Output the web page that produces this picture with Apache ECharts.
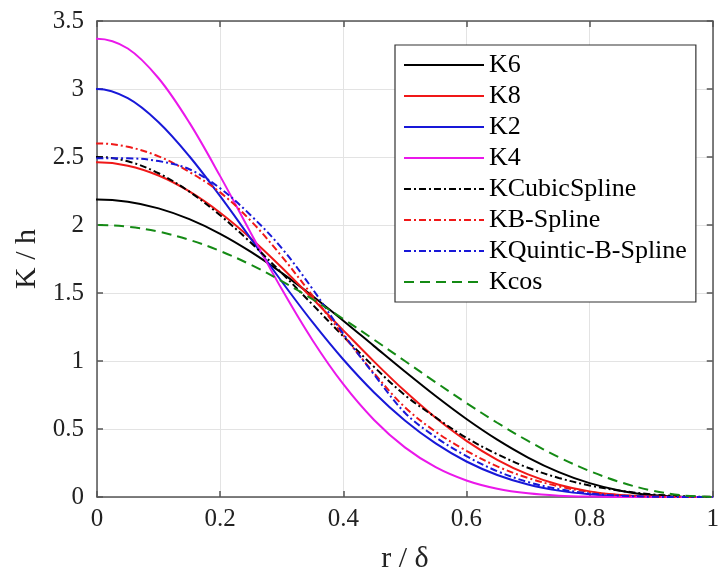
<!DOCTYPE html>
<html><head><meta charset="utf-8">
<script src="https://cdn.jsdelivr.net/npm/echarts@6/dist/echarts.min.js"></script>
<style>html,body{margin:0;padding:0;background:#fff}#c{width:722px;height:579px}</style>
</head><body><div id="c"></div>
<script>
// r / delta sample positions (kernels are symmetric, so the first sample mirrors r = 0.05)
const rValues = [-0.05,0,0.05,0.10,0.15,0.20,0.25,0.30,0.35,0.40,0.45,0.50,0.55,0.60,0.65,0.70,0.75,0.80,0.85,0.90,0.95,1.00];
const seriesNames = ['K6','K8','K2','K4','KCubicSpline','KB-Spline','KQuintic-B-Spline','Kcos'];
const K6 = [2.171,2.1875,2.171,2.1225,2.0431,1.9354,1.8024,1.6484,1.4781,1.2965,1.1095,0.9229,0.7423,0.5734,0.4213,0.2902,0.1832,0.1021,0.0467,0.0150,0.0020,0];
const K8 = [2.4364,2.4609,2.4364,2.3639,2.2468,2.0902,1.9010,1.6876,1.4591,1.2252,0.9954,0.7786,0.5825,0.4129,0.2737,0.1665,0.0902,0.0413,0.0146,0.0032,0.0002,0];
const K2 = [2.9322,3.0,2.9322,2.7556,2.5056,2.2118,1.8984,1.5847,1.2853,1.0109,0.7687,0.5625,0.3937,0.2611,0.1621,0.0923,0.0469,0.0202,0.0067,0.0014,0.0001,0];
const K4 = [3.2976,3.37,3.2976,3.0790,2.7526,2.3593,1.9397,1.5287,1.1529,0.8293,0.5664,0.3647,0.2194,0.1217,0.0610,0.0269,0.0099,0.0029,0.0006,0.0001,0,0];
const KCubicSpline = [2.4686,2.5,2.4686,2.3805,2.2451,2.0715,1.8692,1.6472,1.4149,1.1816,0.9566,0.7491,0.585,0.435,0.315,0.215,0.14,0.085,0.046,0.02,0.006,0.001];
const KBSpline = [2.575,2.60,2.575,2.505,2.39,2.24,2.03,1.77,1.48,1.19,0.91,0.66,0.48,0.34,0.225,0.14,0.078,0.037,0.013,0.003,0,0];
const KQuinticBSpline = [2.49,2.49,2.49,2.47,2.41,2.27,2.07,1.83,1.53,1.20,0.90,0.62,0.44,0.30,0.19,0.11,0.058,0.026,0.010,0.002,0,0];
const Kcos = [1.9877,2,1.9877,1.9511,1.8910,1.8090,1.7071,1.5878,1.4540,1.3090,1.1564,1.0,0.8436,0.6910,0.5460,0.4122,0.2929,0.1910,0.1090,0.0489,0.0123,0];
const xTickLabels = ['0','0.2','0.4','0.6','0.8','1'];
const yTickLabels = ['0','0.5','1','1.5','2','2.5','3','3.5'];

const FONT = "'Liberation Serif','Times New Roman',serif";
const seriesData = [K6,K8,K2,K4,KCubicSpline,KBSpline,KQuinticBSpline,Kcos];
const styles = [
  {color:'#000000', type:'solid'},
  {color:'#f01818', type:'solid'},
  {color:'#1818d8', type:'solid'},
  {color:'#ea18ea', type:'solid'},
  {color:'#000000', type:[7,3,2,3]},
  {color:'#f01818', type:[7,3,2,3]},
  {color:'#1818d8', type:[7,3,2,3]},
  {color:'#148a14', type:[10,6]}
];

const chart = echarts.init(document.getElementById('c'), null, {renderer:'canvas'});
const axisLineStyle = {color:'#555', width:1.5};
chart.setOption({
  animation:false,
  backgroundColor:'#fff',
  grid:{left:97, top:21, right:0, bottom:80, containLabel:false},
  legend:{
    orient:'vertical', left:395, top:45,
    data:seriesNames,
    itemWidth:80, itemHeight:14, itemGap:5,
    padding:[7,9,7,8],
    borderColor:'#333', borderWidth:1.2, backgroundColor:'#fff',
    itemStyle:{opacity:0, borderWidth:0},
    textStyle:{fontFamily:FONT, fontSize:26, color:'#000', lineHeight:26}
  },
  xAxis:[{
    type:'value', min:0, max:1, interval:0.2,
    name:'r / δ', nameLocation:'middle', nameGap:47,
    nameTextStyle:{fontFamily:FONT, fontSize:30, color:'#222'},
    axisLine:{show:true, lineStyle:axisLineStyle},
    axisTick:{show:true, inside:true, length:6, lineStyle:axisLineStyle},
    axisLabel:{fontFamily:FONT, fontSize:25, color:'#222', margin:10,
      formatter:(v)=>xTickLabels[Math.round(v/0.2)]},
    splitLine:{show:true, lineStyle:{color:'#e3e3e3', width:1}}
  },{
    type:'value', min:0, max:1, interval:0.2, position:'top',
    axisLine:{show:true, onZero:false, lineStyle:axisLineStyle},
    axisTick:{show:true, inside:true, length:6, lineStyle:axisLineStyle},
    axisLabel:{show:false}, splitLine:{show:false}
  }],
  yAxis:[{
    type:'value', min:0, max:3.5, interval:0.5,
    name:'K / h', nameLocation:'middle', nameGap:52, nameRotate:90,
    nameTextStyle:{fontFamily:FONT, fontSize:30, color:'#222'},
    axisLine:{show:true, lineStyle:axisLineStyle},
    axisTick:{show:true, inside:true, length:6, lineStyle:axisLineStyle},
    axisLabel:{fontFamily:FONT, fontSize:25, color:'#222', margin:13,
      formatter:(v)=>yTickLabels[Math.round(v/0.5)]},
    splitLine:{show:true, lineStyle:{color:'#e3e3e3', width:1}}
  },{
    type:'value', min:0, max:3.5, interval:0.5, position:'right',
    axisLine:{show:true, onZero:false, lineStyle:axisLineStyle},
    axisTick:{show:true, inside:true, length:6, lineStyle:axisLineStyle},
    axisLabel:{show:false}, splitLine:{show:false}
  }],
  series: seriesNames.map((n,i)=>({
    name:n, type:'line', xAxisIndex:0, yAxisIndex:0, clip:true,
    data: rValues.map((r,j)=>[r, seriesData[i][j]]),
    symbol:'none', smooth:0.35,
    lineStyle:{color:styles[i].color, width:2, type:styles[i].type},
    itemStyle:{color:styles[i].color}
  }))
});
</script></body></html>
